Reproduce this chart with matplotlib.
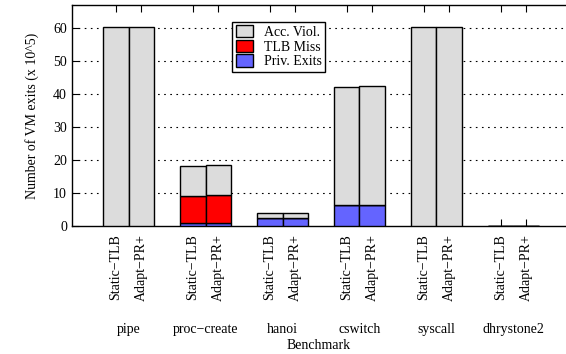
import numpy as np
import matplotlib
matplotlib.use('Agg')
import matplotlib.pyplot as plt

plt.rcParams['font.family'] = ['Liberation Serif', 'DejaVu Serif']

benchmarks = ['pipe', 'proc\u2212create', 'hanoi', 'cswitch', 'syscall', 'dhrystone2']
configs = ['Static\u2212TLB', 'Adapt\u2212PR+']
# per benchmark, [Static-TLB, Adapt-PR+], values in 10^5 exits (stack segments)
priv_exits = [[0.0, 0.0], [1.0, 1.0], [2.3, 2.3], [6.3, 6.3], [0.0, 0.0], [0.05, 0.05]]
tlb_miss = [[0.0, 0.0], [8.1, 8.4], [0.0, 0.0], [0.0, 0.0], [0.0, 0.0], [0.0, 0.0]]
acc_viol = [[60.2, 60.2], [9.1, 9.0], [1.5, 1.5], [35.9, 36.1], [60.2, 60.2], [0.05, 0.05]]

fontsize = 10
fig = plt.figure(figsize=(5.66, 3.54), dpi=100)
ax = fig.add_axes([0.127, 0.362, 0.873, 0.624])

pos, lbl = [], []
for i in range(len(benchmarks)):
    for j in range(2):
        pos.append(3 * i + j)
        lbl.append(configs[j])
pos = np.array(pos)
pv = np.array(priv_exits).ravel()
tl = np.array(tlb_miss).ravel()
av = np.array(acc_viol).ravel()

ax.bar(pos, pv, width=1.0, color='#6464ff', edgecolor='black', lw=1, label='Priv. Exits', zorder=3)
ax.bar(pos, tl, bottom=pv, width=1.0, color='#ff0000', edgecolor='black', lw=1, label='TLB Miss', zorder=3)
ax.bar(pos, av, bottom=pv + tl, width=1.0, color='#dcdcdc', edgecolor='black', lw=1, label='Acc. Viol.', zorder=3)

ax.set_xlim(-1.71, 17.55)
ax.set_ylim(0, 67)
ax.set_yticks(range(0, 61, 10))
ax.set_xticks(pos)
ax.set_xticklabels(lbl, rotation=90, fontsize=fontsize)
ax.tick_params(axis='x', direction='in', top=True, bottom=True, length=5, pad=6)
ax.tick_params(axis='y', direction='in', left=True, right=False, length=5, labelsize=fontsize)
for y in range(10, 61, 10):
    ax.axhline(y, color='black', lw=0.8, linestyle=(0, (1.5, 4)), zorder=1)
for s in ax.spines.values():
    s.set_linewidth(1.0)
ax.spines['right'].set_visible(False)

for i, b in enumerate(benchmarks):
    ax.text(3 * i + 0.5, -0.47, b, transform=ax.get_xaxis_transform(),
            ha='center', va='center', fontsize=fontsize)
ax.text(0.5, -0.54, 'Benchmark', transform=ax.transAxes, ha='center', va='center', fontsize=fontsize)
ax.set_ylabel('Number of VM exits (x 10^5)', fontsize=fontsize, labelpad=10)

h, l = ax.get_legend_handles_labels()
ax.legend(h[::-1], l[::-1], loc='upper left', bbox_to_anchor=(0.325, 0.925), borderaxespad=0,
          fontsize=fontsize, frameon=True, fancybox=False, edgecolor='black', framealpha=1,
          handlelength=1.2, handleheight=1.0, borderpad=0.25, labelspacing=0.05, handletextpad=0.8)

plt.savefig('out.png', dpi=100)
